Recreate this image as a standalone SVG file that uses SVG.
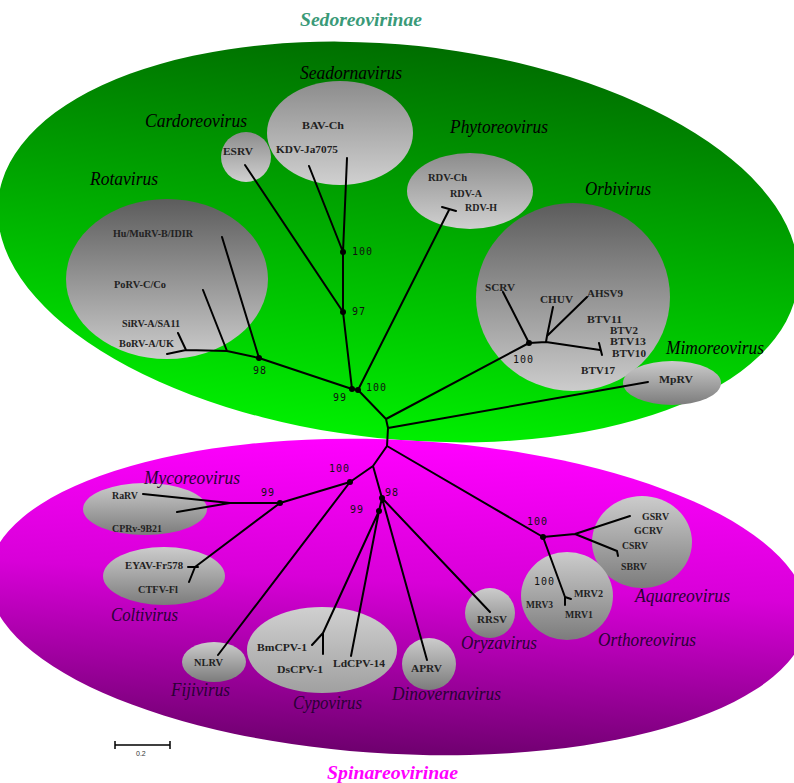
<svg xmlns="http://www.w3.org/2000/svg" width="794" height="783" viewBox="0 0 794 783">
<defs>
<linearGradient id="gGreen" x1="0" y1="0" x2="0" y2="1"><stop offset="0" stop-color="#006e00"/><stop offset="1" stop-color="#00f000"/></linearGradient>
<linearGradient id="gMag" x1="0" y1="0" x2="0" y2="1"><stop offset="0" stop-color="#ff00ff"/><stop offset="0.45" stop-color="#d800d8"/><stop offset="1" stop-color="#6e006e"/></linearGradient>
<linearGradient id="gDL" x1="0" y1="0" x2="0" y2="1"><stop offset="0" stop-color="#5c5c5c"/><stop offset="1" stop-color="#cccccc"/></linearGradient>
<linearGradient id="gML" x1="0" y1="0" x2="0" y2="1"><stop offset="0" stop-color="#8c8c8c"/><stop offset="1" stop-color="#d0d0d0"/></linearGradient>
<linearGradient id="gLD" x1="0" y1="0" x2="0" y2="1"><stop offset="0" stop-color="#cccccc"/><stop offset="1" stop-color="#7c7c7c"/></linearGradient>
<linearGradient id="gLL" x1="0" y1="0" x2="0" y2="1"><stop offset="0" stop-color="#d0d0d0"/><stop offset="1" stop-color="#a0a0a0"/></linearGradient>
<style>
.leaf{font-family:"Liberation Serif",serif;font-weight:bold;font-size:11px;fill:#222;}
.genus{font-family:"Liberation Serif",serif;font-style:italic;font-size:18px;fill:#000;}
.genusm{font-family:"Liberation Serif",serif;font-style:italic;font-size:18px;fill:#2a0035;}
.sup{font-family:"DejaVu Sans Mono",monospace;font-size:10px;letter-spacing:1px;fill:#111;}
.br{stroke:#000;stroke-width:2;fill:none;stroke-linecap:round;stroke-linejoin:round;}
.dot{fill:#000;}
</style>
</defs>
<rect width="794" height="783" fill="#fff"/>
<g id="sedoreovirinae">
<ellipse cx="398" cy="242" rx="402" ry="197" transform="rotate(6 398 242)" fill="url(#gGreen)"/>
<text x="300" y="26" font-family="Liberation Serif,serif" font-style="italic" font-weight="bold" font-size="18" fill="#3a9a78" textLength="122" lengthAdjust="spacingAndGlyphs">Sedoreovirinae</text>
</g>
<g id="spinareovirinae">
<ellipse cx="398" cy="597" rx="410" ry="157" transform="rotate(3 398 597)" fill="url(#gMag)"/>
<text x="327" y="779" font-family="Liberation Serif,serif" font-style="italic" font-weight="bold" font-size="18" fill="#ff00ff" textLength="131" lengthAdjust="spacingAndGlyphs">Spinareovirinae</text>
</g>
<g id="rotavirus">
<ellipse cx="167" cy="279" rx="101" ry="80" fill="url(#gDL)"/>
<text class="genus" x="90" y="185" textLength="68" lengthAdjust="spacingAndGlyphs">Rotavirus</text>
<text class="leaf" x="113" y="237" font-size="10.5" textLength="80" lengthAdjust="spacingAndGlyphs">Hu/MuRV-B/IDIR</text>
<text class="leaf" x="114" y="288" font-size="10.5" textLength="52" lengthAdjust="spacingAndGlyphs">PoRV-C/Co</text>
<text class="leaf" x="122" y="327" font-size="10.5" textLength="58" lengthAdjust="spacingAndGlyphs">SiRV-A/SA11</text>
<text class="leaf" x="119" y="347" font-size="10.5" textLength="55" lengthAdjust="spacingAndGlyphs">BoRV-A/UK</text>
</g>
<g id="cardoreovirus">
<ellipse cx="246" cy="157" rx="25" ry="25" fill="url(#gML)"/>
<text class="genus" x="145" y="127" textLength="102" lengthAdjust="spacingAndGlyphs">Cardoreovirus</text>
<text class="leaf" x="223" y="155" font-size="12" textLength="30" lengthAdjust="spacingAndGlyphs">ESRV</text>
</g>
<g id="seadornavirus">
<ellipse cx="340" cy="133" rx="73" ry="52" fill="url(#gML)"/>
<text class="genus" x="300" y="79" textLength="102" lengthAdjust="spacingAndGlyphs">Seadornavirus</text>
<text class="leaf" x="302" y="129" font-size="12" textLength="42" lengthAdjust="spacingAndGlyphs">BAV-Ch</text>
<text class="leaf" x="276" y="153" font-size="12" textLength="62" lengthAdjust="spacingAndGlyphs">KDV-Ja7075</text>
</g>
<g id="phytoreovirus">
<ellipse cx="470" cy="191" rx="63" ry="38" fill="url(#gML)"/>
<text class="genus" x="450" y="133" textLength="98" lengthAdjust="spacingAndGlyphs">Phytoreovirus</text>
<text class="leaf" x="428" y="181" font-size="10.5" textLength="39" lengthAdjust="spacingAndGlyphs">RDV-Ch</text>
<text class="leaf" x="450" y="197" font-size="10.5" textLength="32" lengthAdjust="spacingAndGlyphs">RDV-A</text>
<text class="leaf" x="465" y="211" font-size="10.5" textLength="32" lengthAdjust="spacingAndGlyphs">RDV-H</text>
</g>
<g id="orbivirus">
<ellipse cx="573" cy="297" rx="97" ry="94" fill="url(#gDL)"/>
<text class="genus" x="585" y="195" textLength="66" lengthAdjust="spacingAndGlyphs">Orbivirus</text>
<text class="leaf" x="485" y="291" font-size="12.5" textLength="30" lengthAdjust="spacingAndGlyphs">SCRV</text>
<text class="leaf" x="540" y="303" font-size="12.5" textLength="33" lengthAdjust="spacingAndGlyphs">CHUV</text>
<text class="leaf" x="587" y="297" font-size="12.5" textLength="36" lengthAdjust="spacingAndGlyphs">AHSV9</text>
<text class="leaf" x="587" y="323" font-size="12.5" textLength="35" lengthAdjust="spacingAndGlyphs">BTV11</text>
<text class="leaf" x="610" y="334" font-size="12.5" textLength="28" lengthAdjust="spacingAndGlyphs">BTV2</text>
<text class="leaf" x="610" y="345" font-size="12.5" textLength="36" lengthAdjust="spacingAndGlyphs">BTV13</text>
<text class="leaf" x="612" y="357" font-size="12.5" textLength="34" lengthAdjust="spacingAndGlyphs">BTV10</text>
<text class="leaf" x="581" y="374" font-size="12.5" textLength="34" lengthAdjust="spacingAndGlyphs">BTV17</text>
</g>
<g id="mimoreovirus">
<ellipse cx="672" cy="383" rx="49" ry="22" fill="url(#gLD)"/>
<text class="genus" x="666" y="354" textLength="98" lengthAdjust="spacingAndGlyphs">Mimoreovirus</text>
<text class="leaf" x="659" y="383" font-size="12.5" textLength="34" lengthAdjust="spacingAndGlyphs">MpRV</text>
</g>
<g id="mycoreovirus">
<ellipse cx="145" cy="509" rx="62" ry="26" fill="url(#gLD)"/>
<text class="genusm" x="144" y="484" textLength="96" lengthAdjust="spacingAndGlyphs">Mycoreovirus</text>
<text class="leaf" x="112" y="499" font-size="10.5" textLength="26" lengthAdjust="spacingAndGlyphs">RaRV</text>
<text class="leaf" x="112" y="532" font-size="10.5" textLength="50" lengthAdjust="spacingAndGlyphs">CPRv-9B21</text>
</g>
<g id="coltivirus">
<ellipse cx="164" cy="576" rx="61" ry="29" fill="url(#gLD)"/>
<text class="genusm" x="111" y="621" textLength="67" lengthAdjust="spacingAndGlyphs">Coltivirus</text>
<text class="leaf" x="125" y="569" font-size="10.5" textLength="58" lengthAdjust="spacingAndGlyphs">EYAV-Fr578</text>
<text class="leaf" x="138" y="593" font-size="10.5" textLength="40" lengthAdjust="spacingAndGlyphs">CTFV-Fl</text>
</g>
<g id="aquareovirus">
<ellipse cx="642" cy="542" rx="50" ry="46" fill="url(#gLD)"/>
<text class="genusm" x="635" y="602" textLength="95" lengthAdjust="spacingAndGlyphs">Aquareovirus</text>
<text class="leaf" x="642" y="520" font-size="11" textLength="27" lengthAdjust="spacingAndGlyphs">GSRV</text>
<text class="leaf" x="634" y="534" font-size="11" textLength="29" lengthAdjust="spacingAndGlyphs">GCRV</text>
<text class="leaf" x="622" y="549" font-size="11" textLength="26" lengthAdjust="spacingAndGlyphs">CSRV</text>
<text class="leaf" x="621" y="570" font-size="11" textLength="26" lengthAdjust="spacingAndGlyphs">SBRV</text>
</g>
<g id="orthoreovirus">
<ellipse cx="567" cy="596" rx="46" ry="44" fill="url(#gLD)"/>
<text class="genusm" x="598" y="646" textLength="98" lengthAdjust="spacingAndGlyphs">Orthoreovirus</text>
<text class="leaf" x="574" y="597" font-size="11" textLength="29" lengthAdjust="spacingAndGlyphs">MRV2</text>
<text class="leaf" x="526" y="608" font-size="11" textLength="27" lengthAdjust="spacingAndGlyphs">MRV3</text>
<text class="leaf" x="565" y="618" font-size="11" textLength="28" lengthAdjust="spacingAndGlyphs">MRV1</text>
</g>
<g id="oryzavirus">
<ellipse cx="490" cy="613" rx="25" ry="25" fill="url(#gLD)"/>
<text class="genusm" x="461" y="649" textLength="76" lengthAdjust="spacingAndGlyphs">Oryzavirus</text>
<text class="leaf" x="477" y="623" font-size="12" textLength="30" lengthAdjust="spacingAndGlyphs">RRSV</text>
</g>
<g id="fijivirus">
<ellipse cx="214" cy="662" rx="32" ry="20" fill="url(#gLD)"/>
<text class="genusm" x="171" y="696" textLength="59" lengthAdjust="spacingAndGlyphs">Fijivirus</text>
<text class="leaf" x="194" y="666" font-size="10" textLength="29" lengthAdjust="spacingAndGlyphs">NLRV</text>
</g>
<g id="cypovirus">
<ellipse cx="322" cy="650" rx="75" ry="43" fill="url(#gLL)"/>
<text class="genusm" x="293" y="709" textLength="69" lengthAdjust="spacingAndGlyphs">Cypovirus</text>
<text class="leaf" x="257" y="651" font-size="12" textLength="50" lengthAdjust="spacingAndGlyphs">BmCPV-1</text>
<text class="leaf" x="277" y="673" font-size="12" textLength="46" lengthAdjust="spacingAndGlyphs">DsCPV-1</text>
<text class="leaf" x="333" y="667" font-size="12" textLength="52" lengthAdjust="spacingAndGlyphs">LdCPV-14</text>
</g>
<g id="dinovernavirus">
<ellipse cx="429" cy="664" rx="27" ry="26" fill="url(#gLD)"/>
<text class="genusm" x="392" y="700" textLength="109" lengthAdjust="spacingAndGlyphs">Dinovernavirus</text>
<text class="leaf" x="411" y="672" font-size="12" textLength="31" lengthAdjust="spacingAndGlyphs">APRV</text>
</g>
<g id="connectors">
<path class="br" d="M358,390 L352,389 M352,389 L259,358 M352,389 L343,312 M343,312 L343,252 M343,312 L245,165 M343,252 L309,166 M343,252 L347,158 M358,390 L449,210 M442,207 L456,211 M358,390 L386,419 L388,428 L387,446 M386,419 L529,343 M388,428 L648,382"/>
<path class="br" d="M259,358 L222,237 M259,358 L227,351 L203,290 M227,351 L186,350 L178,333 M186,350 L167,354"/>
<path class="br" d="M529,343 L503,292 M529,343 L546,342 L547,336 L553,307 M547,336 L587,297 M546,342 L600,350 M599,343 L602,355"/>
<path class="br" d="M387,446 L373,466 M387,446 L543,537 M373,466 L350,482 M373,466 L382,498 M350,482 L280,503 M350,482 L218,655 M280,503 L230,503 L143,494 M230,503 L177,512 M280,503 L195,567 M188,567 L198,567 M195,567 L189,582"/>
<path class="br" d="M382,498 L490,612 M382,498 L427,660 M382,498 L379,511 L323,633 L312,645 M323,633 L323,654 M379,511 L351,656"/>
<path class="br" d="M543,537 L575,534 L630,516 M575,534 L617,551 L618,556 M543,537 L565,597 L571,599 M565,597 L565,605"/>
<circle class="dot" cx="358" cy="390" r="3"/><circle class="dot" cx="352" cy="389" r="3"/><circle class="dot" cx="259" cy="358" r="3"/><circle class="dot" cx="343" cy="312" r="3"/><circle class="dot" cx="343" cy="252" r="3"/><circle class="dot" cx="529" cy="343" r="3"/><circle class="dot" cx="350" cy="482" r="3"/><circle class="dot" cx="280" cy="503" r="3"/><circle class="dot" cx="382" cy="498" r="3"/><circle class="dot" cx="379" cy="511" r="3"/><circle class="dot" cx="543" cy="537" r="3"/>
</g>
<g id="support">
<text class="sup" x="352" y="255">100</text>
<text class="sup" x="352" y="315">97</text>
<text class="sup" x="253" y="374">98</text>
<text class="sup" x="333" y="401">99</text>
<text class="sup" x="366" y="391">100</text>
<text class="sup" x="513" y="363">100</text>
<text class="sup" x="329" y="472">100</text>
<text class="sup" x="261" y="496">99</text>
<text class="sup" x="385" y="496">98</text>
<text class="sup" x="350" y="513">99</text>
<text class="sup" x="527" y="525">100</text>
<text class="sup" x="534" y="585">100</text>
</g>
<g id="scalebar">
<path d="M115,745 L170,745 M115,741 L115,749 M170,741 L170,749" stroke="#000" stroke-width="1.5" fill="none"/>
<text x="136" y="756" font-family="Liberation Sans,sans-serif" font-size="7" fill="#333">0.2</text>
</g>
</svg>
